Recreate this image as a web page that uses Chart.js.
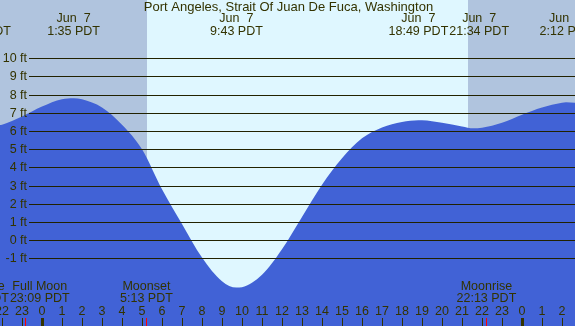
<!DOCTYPE html>
<html>
<head>
<meta charset="utf-8">
<script src="https://cdn.jsdelivr.net/npm/chart.js@4.4.1/dist/chart.umd.min.js"></script>
<style>
  html, body { margin: 0; padding: 0; background: #b0c4de; }
  #tide { display: block; }
</style>
</head>
<body>
<canvas id="tide" width="575" height="326"></canvas>
<script>
// tide height (ft), hours from Jun 7 00:00 PDT
const tideHours = [-2.1, -2, -1, 0, 1, 1.58, 2, 3, 4, 5, 6, 7, 8, 9, 9.72, 10, 11, 12, 13, 14, 15, 16, 17, 18, 18.82, 19, 20, 21, 21.57, 22, 23, 24, 25, 26, 26.2, 26.65];
const tideFeet  = [6.33, 6.35, 6.8, 7.35, 7.75, 7.8, 7.75, 7.3, 6.35, 5.0, 2.8, 0.9, -0.95, -2.25, -2.6, -2.58, -1.9, -0.5, 1.28, 3.05, 4.5, 5.6, 6.2, 6.5, 6.6, 6.6, 6.45, 6.25, 6.15, 6.18, 6.45, 6.9, 7.3, 7.55, 7.58, 7.56];

// highs / lows shown in the header
const extremaHours = [-3.05, 1.58, 9.72, 18.82, 21.57, 26.2];
const extremaDays  = ["Jun  6", "Jun  7", "Jun  7", "Jun  7", "Jun  7", "Jun  8"];
const extremaTimes = ["20:57 PDT", "1:35 PDT", "9:43 PDT", "18:49 PDT", "21:34 PDT", "2:12 PDT"];

// sunrise / sunset
const sunrise = 5.25;
const sunset = 21.3;

// moon events along the bottom
const moonHours  = [-3.15, -0.85, 5.22, 22.22];
const moonNames  = ["Moonrise", "Full Moon", "Moonset", "Moonrise"];
const moonTimes  = ["20:51 PDT", "23:09 PDT", "5:13 PDT", "22:13 PDT"];

const gridFeet = [-1, 0, 1, 2, 3, 4, 5, 6, 7, 8, 9, 10];
const hourTicks = [];
for (let h = -2; h <= 26; h++) hourTicks.push(h);

const title = "Port Angeles, Strait Of Juan De Fuca, Washington";

const TXT = "#333300";
const LINE = "#222200";
const FONT = "12.5px 'Liberation Sans', Arial, sans-serif";
const TITLE_FONT = "13px 'Liberation Sans', Arial, sans-serif";

// put labels side by side, nudging right when they would overlap
function spreadLabels(centers, widths) {
  const out = [];
  let prevRight = -Infinity;
  centers.forEach((c, i) => {
    let left = c - widths[i] / 2;
    if (left < prevRight) left = prevRight;
    out.push(left + widths[i] / 2);
    prevRight = left + widths[i];
  });
  return out;
}

const tidePlugin = {
  id: "tideDeco",
  beforeDraw(chart) {
    const { ctx, scales: { x } } = chart;
    ctx.save();
    ctx.fillStyle = "#b0c4de";
    ctx.fillRect(0, 0, chart.width, chart.height);
    ctx.fillStyle = "#dff7ff";
    const x0 = x.getPixelForValue(sunrise), x1 = x.getPixelForValue(sunset);
    ctx.fillRect(x0, 0, x1 - x0, chart.height);
    ctx.restore();
  },
  afterDatasetsDraw(chart) {
    const { ctx, scales: { x, y } } = chart;
    const W = chart.width, H = chart.height;
    ctx.save();
    ctx.font = FONT;
    ctx.textBaseline = "middle";

    // horizontal lines + ft labels
    gridFeet.forEach((f) => {
      const py = Math.round(y.getPixelForValue(f)) + 0.5;
      ctx.strokeStyle = LINE;
      ctx.lineWidth = 1;
      ctx.beginPath();
      ctx.moveTo(29, py);
      ctx.lineTo(W, py);
      ctx.stroke();
      ctx.fillStyle = TXT;
      ctx.textAlign = "right";
      ctx.fillText(f + " ft", 27, py);
    });

    // header
    ctx.textAlign = "center";
    ctx.fillStyle = TXT;
    ctx.font = TITLE_FONT;
    ctx.fillText(title, W / 2 + 1, 7);
    ctx.font = FONT;
    const hw = extremaTimes.map((t, i) => Math.max(ctx.measureText(t).width, ctx.measureText(extremaDays[i]).width) + 1);
    const hx = spreadLabels(extremaHours.map((h) => x.getPixelForValue(h)), hw);
    hx.forEach((cx, i) => {
      ctx.fillText(extremaDays[i], cx, 19);
      ctx.fillText(extremaTimes[i], cx, 32);
    });

    // moon labels
    const mw = moonTimes.map((t, i) => Math.max(ctx.measureText(t).width, ctx.measureText(moonNames[i]).width) + 1);
    const mx = spreadLabels(moonHours.map((h) => x.getPixelForValue(h)), mw);
    mx.forEach((cx, i) => {
      ctx.fillText(moonNames[i], cx, 287);
      ctx.fillText(moonTimes[i], cx, 299);
    });

    // hour numbers + ticks
    hourTicks.forEach((h) => {
      const px = Math.round(x.getPixelForValue(h));
      const hh = ((h % 24) + 24) % 24;
      ctx.fillStyle = TXT;
      ctx.fillText(String(hh), px, 312);
      if (hh === 0) ctx.fillRect(px - 1, 318, 3, H - 318);
      else ctx.fillRect(px, 318, 1, H - 318);
    });
    ctx.fillStyle = "#ff0000";
    moonHours.forEach((h) => {
      const px = Math.round(x.getPixelForValue(h));
      ctx.fillRect(px, 318, 1, H - 318);
    });
    ctx.restore();
  }
};

new Chart(document.getElementById("tide").getContext("2d"), {
  type: "line",
  data: {
    datasets: [{
      data: tideHours.map((h, i) => ({ x: h, y: tideFeet[i] })),
      fill: "start",
      backgroundColor: "#4162d6",
      borderWidth: 0,
      pointRadius: 0,
      cubicInterpolationMode: "monotone",
    }],
  },
  options: {
    responsive: false,
    animation: false,
    devicePixelRatio: 1,
    layout: { padding: 0 },
    scales: {
      x: { type: "linear", min: -2.1, max: 26.65, display: false },
      y: { min: -4.71, max: 13.2, display: false },
    },
    plugins: { legend: { display: false }, tooltip: { enabled: false } },
  },
  plugins: [tidePlugin],
});
</script>
</body>
</html>
